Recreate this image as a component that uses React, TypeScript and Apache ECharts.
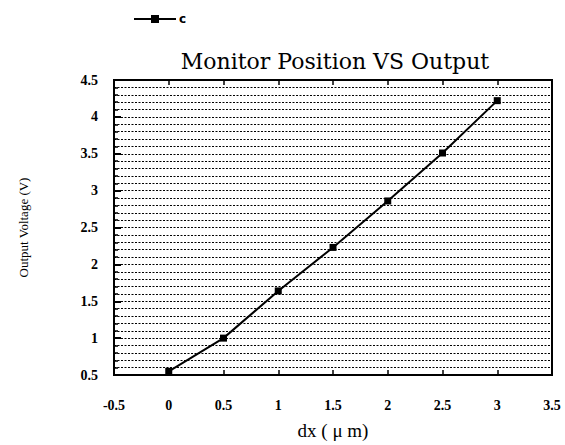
import React, { useEffect, useRef } from "react";
import * as echarts from "echarts";

const xValues = [0, 0.5, 1, 1.5, 2, 2.5, 3];
const yValues = [0.55, 1.0, 1.64, 2.23, 2.86, 3.51, 4.22];
const seriesName = "c";
const titleText = "Monitor Position VS Output";
const xName = "dx ( \u03BC m)";
const yName = "Output Voltage (V)";

export default function App() {
  const ref = useRef<HTMLDivElement>(null);
  useEffect(() => {
    const chart = echarts.init(ref.current!, null, { renderer: "svg" });
    const serif = "Liberation Serif";
    const gridLine = { color: "#000", width: 1.2, type: [2, 1.5] as any };
    chart.setOption({
      animation: false,
      backgroundColor: "#fff",
      title: {
        text: titleText,
        left: 330,
        textAlign: "center",
        top: 45,
        textStyle: { fontFamily: "DejaVu Serif", fontSize: 22, fontWeight: "normal", color: "#000" },
      },
      legend: {
        left: 128,
        top: 8,
        itemWidth: 42,
        itemHeight: 10,
        itemGap: 4,
        data: [{ name: seriesName }],
        textStyle: { fontFamily: "DejaVu Sans", fontWeight: "bold", fontSize: 12, color: "#000", padding: [0, 0, 0, -2] },
      },
      grid: {
        left: 114,
        right: 13,
        top: 80,
        bottom: 62,
        show: true,
        borderColor: "#000",
        borderWidth: 2,
      },
      xAxis: [
        {
          type: "value",
          min: -0.5,
          max: 3.5,
          interval: 0.5,
          name: xName,
          nameLocation: "middle",
          nameGap: 46,
          nameTextStyle: { fontFamily: serif, fontSize: 19, color: "#000" },
          axisLine: { show: true, onZero: false, lineStyle: { color: "#000", width: 2 } },
          axisTick: { show: true, inside: true, length: 5, lineStyle: { color: "#000", width: 1.5 } },
          axisLabel: { margin: 23, fontFamily: serif, fontWeight: "bold", fontSize: 14, color: "#000" },
          splitLine: { show: false },
        },
        {
          type: "value",
          position: "top",
          min: -0.5,
          max: 3.5,
          interval: 0.5,
          axisLine: { show: true, onZero: false, lineStyle: { color: "#000", width: 2 } },
          axisTick: { show: true, inside: true, length: 5, lineStyle: { color: "#000", width: 1.5 } },
          axisLabel: { show: false },
          splitLine: { show: false },
        },
      ],
      yAxis: {
        type: "value",
        min: 0.5,
        max: 4.5,
        interval: 0.5,
        name: yName,
        nameLocation: "middle",
        nameGap: 84,
        nameTextStyle: { fontFamily: serif, fontSize: 13, color: "#000" },
        axisLine: { show: true, onZero: false, lineStyle: { color: "#000", width: 2 } },
        axisTick: { show: true, inside: true, length: 7, lineStyle: { color: "#000", width: 2 } },
        minorTick: { show: true, splitNumber: 5, length: 4, lineStyle: { color: "#000", width: 1.5 } },
        axisLabel: { margin: 16, fontFamily: serif, fontWeight: "bold", fontSize: 14, color: "#000" },
        splitLine: { show: true, lineStyle: gridLine },
        minorSplitLine: { show: true, lineStyle: gridLine },
      },
      series: [
        {
          name: seriesName,
          type: "line",
          data: xValues.map((x, i) => [x, yValues[i]]),
          symbol: "rect",
          symbolSize: 7,
          itemStyle: { color: "#000" },
          lineStyle: { color: "#000", width: 2 },
          z: 5,
        },
      ],
    });
    return () => chart.dispose();
  }, []);
  return <div ref={ref} style={{ width: 565, height: 445, position: "absolute", left: 0, top: 0 }} />;
}
